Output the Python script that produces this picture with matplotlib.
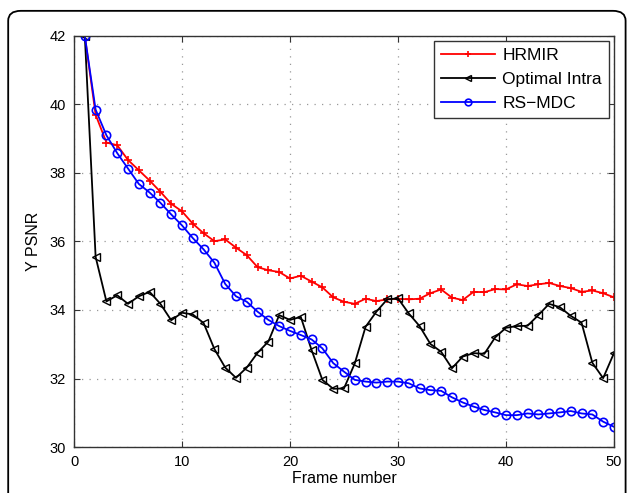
import numpy as np
import matplotlib.pyplot as plt
from matplotlib.patches import FancyBboxPatch

# PSNR of the luma channel per frame for three refresh schemes
frames = np.arange(1, 51)

hrmir = [42.00, 39.70, 38.89, 38.81, 38.38, 38.08, 37.78, 37.45, 37.10, 36.88,
         36.52, 36.24, 36.01, 36.06, 35.82, 35.60, 35.25, 35.16, 35.11, 34.92,
         35.00, 34.83, 34.66, 34.37, 34.24, 34.18, 34.33, 34.26, 34.31, 34.33,
         34.31, 34.33, 34.49, 34.60, 34.36, 34.29, 34.53, 34.52, 34.61, 34.60,
         34.75, 34.70, 34.75, 34.79, 34.70, 34.64, 34.53, 34.57, 34.49, 34.37]

optimal_intra = [42.00, 35.55, 34.25, 34.43, 34.18, 34.40, 34.53, 34.18, 33.70, 33.92,
                 33.87, 33.62, 32.86, 32.32, 32.02, 32.32, 32.75, 33.08, 33.85, 33.71,
                 33.80, 32.83, 31.96, 31.70, 31.71, 32.44, 33.51, 33.95, 34.31, 34.34,
                 33.90, 33.53, 33.01, 32.78, 32.30, 32.64, 32.74, 32.72, 33.20, 33.48,
                 33.53, 33.54, 33.85, 34.18, 34.08, 33.83, 33.63, 32.46, 32.01, 32.74]

rs_mdc = [42.00, 39.85, 39.10, 38.58, 38.13, 37.68, 37.43, 37.13, 36.79, 36.47,
          36.10, 35.77, 35.38, 34.76, 34.40, 34.24, 33.95, 33.71, 33.53, 33.39,
          33.27, 33.14, 32.88, 32.45, 32.20, 31.96, 31.91, 31.88, 31.91, 31.91,
          31.86, 31.71, 31.66, 31.64, 31.45, 31.30, 31.18, 31.08, 31.01, 30.93,
          30.93, 30.98, 30.95, 30.98, 31.01, 31.05, 30.98, 30.95, 30.74, 30.59]

plt.rcParams['font.family'] = ['Liberation Sans', 'DejaVu Sans']

fig = plt.figure(figsize=(6.3, 4.93), dpi=100)
ax = fig.add_axes([0.1175, 0.0933, 0.857, 0.8337])

# rounded frame around the whole figure
frame = FancyBboxPatch((0.013, -0.05), 0.98, 1.028,
                       boxstyle='round,pad=0,rounding_size=0.02',
                       transform=fig.transFigure, fill=False,
                       edgecolor='black', linewidth=1.3, clip_on=False)
fig.patches.append(frame)

ax.plot(frames, hrmir, color='red', marker='+', markersize=6,
        markeredgewidth=1.2, linewidth=1.3, label='HRMIR')
ax.plot(frames, optimal_intra, color='black', marker='<', markersize=6,
        markerfacecolor='none', markeredgewidth=1.0, linewidth=1.3,
        label='Optimal Intra')
ax.plot(frames, rs_mdc, color='blue', marker='o', markersize=6,
        markerfacecolor='none', markeredgewidth=1.2, linewidth=1.3,
        label='RS\u2212MDC')

ax.set_xlim(0, 50)
ax.set_ylim(30, 42)
ax.set_xticks(np.arange(0, 51, 10))
ax.set_yticks(np.arange(30, 43, 2))
ax.grid(True, linestyle=(0, (1, 5)), color='#999999', linewidth=0.9)
ax.tick_params(direction='in', top=True, right=True, length=4,
               labelsize=10.5, color='#333333', pad=6)
for s in ax.spines.values():
    s.set_color('#333333')
    s.set_linewidth(1.0)

ax.set_xlabel('Frame number', fontsize=11.5, labelpad=1)
ax.set_ylabel('Y PSNR', fontsize=11.5, labelpad=6)

leg = ax.legend(loc='upper right', fontsize=12.5, fancybox=False,
                framealpha=1, edgecolor='#333333', borderaxespad=0.3,
                handlelength=3.1, handletextpad=0.4, labelspacing=0.5,
                borderpad=0.4, markerscale=0.8)
leg.get_frame().set_linewidth(1.0)

fig.savefig('out.png', dpi=100)
